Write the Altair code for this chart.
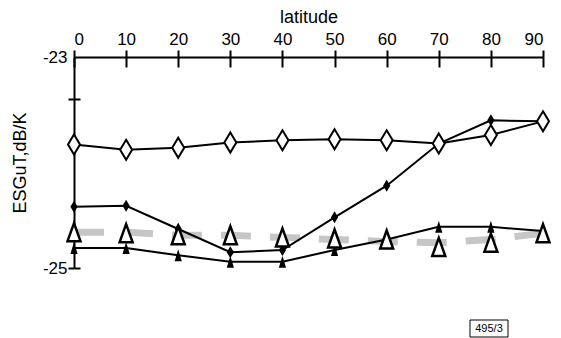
import altair as alt
import pandas as pd

# ---- data ----
lat = [0, 10, 20, 30, 40, 50, 60, 70, 80, 90]
open_diamond = [-23.83, -23.88, -23.86, -23.81, -23.79, -23.78, -23.79, -23.82, -23.74, -23.61]
filled_diamond = [-24.42, -24.41, -24.63, -24.85, -24.83, -24.52, -24.22, -23.82, -23.60, -23.61]
filled_triangle = [-24.81, -24.81, -24.88, -24.94, -24.94, -24.83, -24.73, -24.61, -24.61, -24.65]
open_triangle = [-24.66, -24.67, -24.69, -24.69, -24.71, -24.72, -24.73, -24.80, -24.76, -24.67]
gray_band = [-24.66, -24.66, -24.69, -24.69, -24.71, -24.73, -24.75, -24.76, -24.73, -24.67]
y_ticks = [-25, -23.4, -23]
box_label = ["495/3"]

FONT = "Liberation Sans"

def frame(vals):
    return pd.DataFrame({"lat": lat, "v": vals})

xscale = alt.Scale(domain=[0, 90], nice=False, zero=False)
yscale = alt.Scale(domain=[-25, -23], nice=False, zero=False)

x_main = alt.Axis(orient="top", values=lat, tickSize=7, tickWidth=2, tickColor="black",
                  domainColor="black", domainWidth=2, labelFont=FONT, labelFontSize=17,
                  labelColor="black", labelPadding=2, labelAngle=0, grid=False,
                  title="latitude", titleFont=FONT, titleFontSize=18, titleFontWeight="normal",
                  titleColor="black", titlePadding=4)
x_inner = alt.Axis(orient="top", values=lat, tickSize=10, tickWidth=2, tickColor="black",
                   offset=-10, domain=False, labels=False, grid=False)
y_main = alt.Axis(orient="left", values=y_ticks, tickSize=6, tickWidth=2,
                  tickColor={"condition": {"test": "datum.value == -23", "value": "transparent"}, "value": "black"},
                  domainColor="black", domainWidth=2, labelFont=FONT, labelFontSize=17,
                  labelColor="black", labelPadding=1, grid=False,
                  labelExpr="datum.value == -25 ? '-25' : (datum.value == -23 ? '-23' : '')",
                  title="ESGuT,dB/K", titleFont=FONT, titleFontSize=18, titleFontWeight="normal",
                  titleColor="black", titlePadding=13)
y_inner = alt.Axis(orient="left", values=[-25, -23.4], tickSize=6, tickWidth=2, tickColor="black",
                   offset=-6, domain=False, labels=False, grid=False)

DIAMOND = "M0,-1L0.6,0L0,1L-0.6,0Z"
TRI_OPEN = "M0,-1L0.72,1L-0.72,1Z"
TRI_FILL = "M0,-1L0.6,1L-0.6,1Z"

gray = alt.Chart(frame(gray_band)).mark_line(
    color="#c6c6c6", strokeWidth=7, strokeDash=[30, 19], strokeCap="butt"
).encode(
    x=alt.X("lat:Q", scale=xscale, axis=x_main),
    y=alt.Y("v:Q", scale=yscale, axis=y_main),
)

ft_line = alt.Chart(frame(filled_triangle)).mark_line(color="black", strokeWidth=2).encode(
    x=alt.X("lat:Q", scale=xscale, axis=x_inner, title=None),
    y=alt.Y("v:Q", scale=yscale, axis=y_inner, title=None),
)
ft_pts = alt.Chart(frame(filled_triangle)).mark_point(
    shape=TRI_FILL, size=144, filled=True, color="black", opacity=1, strokeWidth=0
).encode(
    x=alt.X("lat:Q", scale=xscale, axis=None),
    y=alt.Y("v:Q", scale=yscale, axis=None),
)

fd_line = alt.Chart(frame(filled_diamond)).mark_line(color="black", strokeWidth=2).encode(
    x=alt.X("lat:Q", scale=xscale, axis=None),
    y=alt.Y("v:Q", scale=yscale, axis=None),
)
fd_pts = alt.Chart(frame(filled_diamond)).mark_point(
    shape=DIAMOND, size=144, filled=True, color="black", opacity=1, strokeWidth=0
).encode(
    x=alt.X("lat:Q", scale=xscale, axis=None),
    y=alt.Y("v:Q", scale=yscale, axis=None),
)

od_line = alt.Chart(frame(open_diamond)).mark_line(color="black", strokeWidth=2).encode(
    x=alt.X("lat:Q", scale=xscale, axis=None),
    y=alt.Y("v:Q", scale=yscale, axis=None),
)
od_pts = alt.Chart(frame(open_diamond)).mark_point(
    shape=DIAMOND, size=400, filled=True, fill="white", stroke="black", strokeWidth=2, opacity=1
).encode(
    x=alt.X("lat:Q", scale=xscale, axis=None),
    y=alt.Y("v:Q", scale=yscale, axis=None),
)

ot_pts = alt.Chart(frame(open_triangle)).mark_point(
    shape=TRI_OPEN, size=324, filled=True, fill="white", stroke="black", strokeWidth=2.5, opacity=1
).encode(
    x=alt.X("lat:Q", scale=xscale, axis=None),
    y=alt.Y("v:Q", scale=yscale, axis=None),
)

box_df = pd.DataFrame({"label": box_label})
box = alt.Chart(box_df).mark_rect(fill="white", stroke="black", strokeWidth=1).encode(
    x=alt.value(396), x2=alt.value(434), y=alt.value(263), y2=alt.value(280)
)
box_text = alt.Chart(box_df).mark_text(
    font=FONT, fontSize=11, color="black", align="center", baseline="middle"
).encode(x=alt.value(415), y=alt.value(272), text="label:N")

chart = alt.layer(
    gray, ft_line, ft_pts, fd_line, fd_pts, od_line, od_pts, ot_pts, box, box_text
).resolve_axis(x="independent", y="independent").properties(
    width=469, height=211,
    autosize=alt.AutoSizeParams(type="none"),
    padding={"left": 66, "top": 49, "right": 10, "bottom": 70},
).configure_view(stroke="transparent")

chart.save("out.html", embed_options={"renderer": "svg", "actions": False})
